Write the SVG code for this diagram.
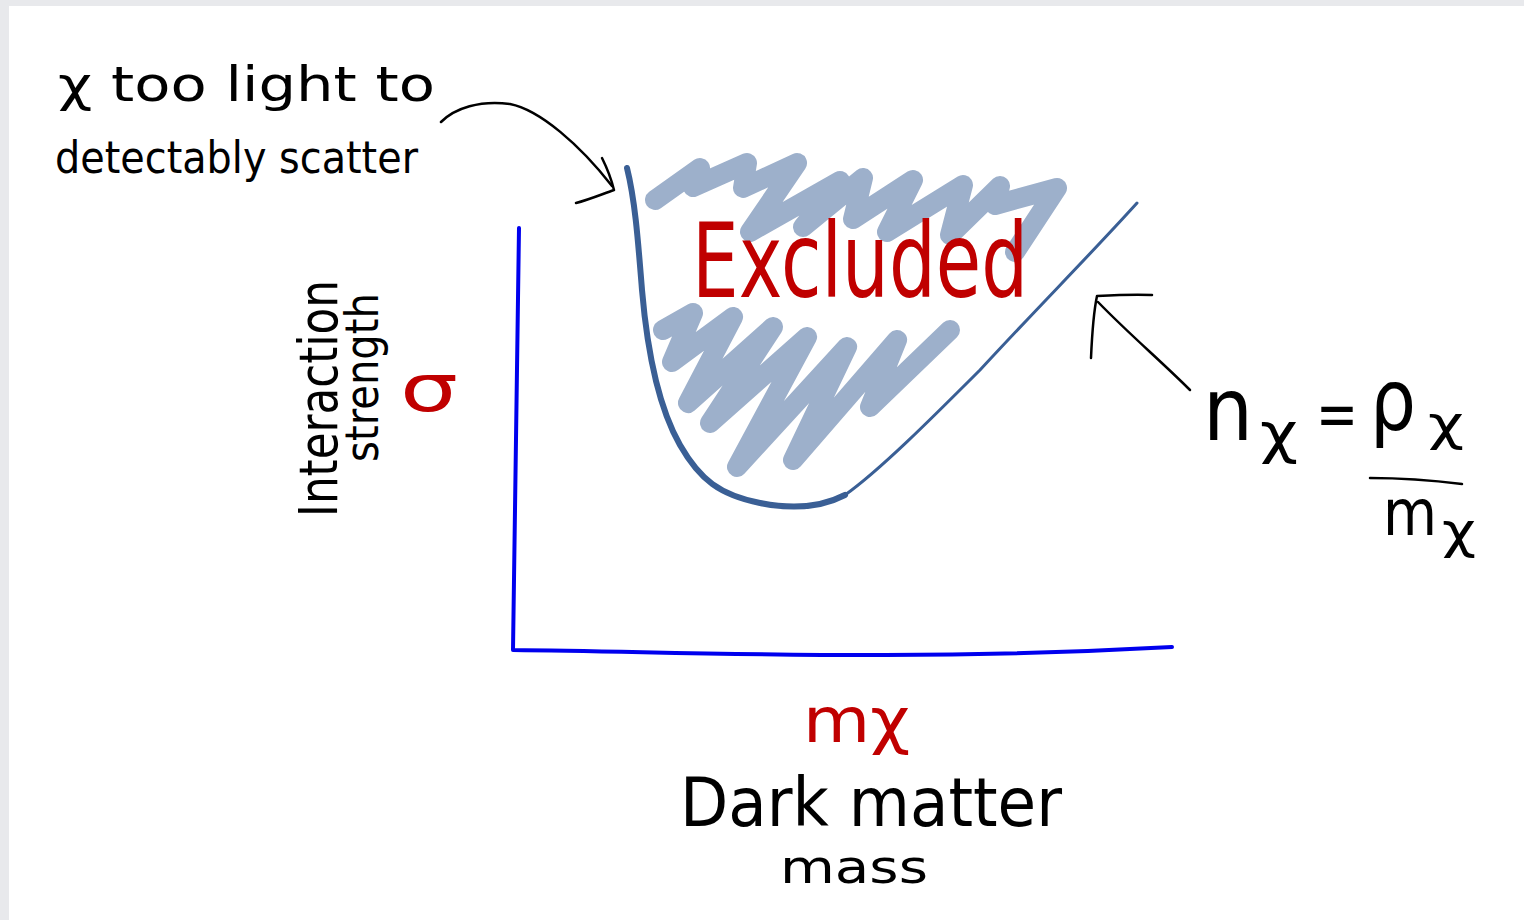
<svg xmlns="http://www.w3.org/2000/svg" width="1524" height="920" viewBox="0 0 1524 920">
<style>
.hand{font-family:"DejaVu Sans","Liberation Sans",sans-serif;fill:#000}
.red{fill:#c00000}
.ink{fill:none;stroke:#000;stroke-width:2.5;stroke-linecap:round;stroke-linejoin:round}
.scribble{fill:none;stroke:#9db0cb;stroke-width:20;stroke-linecap:round;stroke-linejoin:round}
.axis{fill:none;stroke:#0000ee;stroke-width:4;stroke-linecap:round;stroke-linejoin:round}
.bound{fill:none;stroke:#3a5f95;stroke-linecap:round;stroke-linejoin:round}
</style>
<rect x="0" y="0" width="1524" height="920" fill="#e8e9ec"/>
<rect x="9" y="6" width="1515" height="914" fill="#ffffff"/>

<g id="region">
<polyline class="scribble" points="655,200 700,168 693,187 747,163 743,188 797,163 750,232 840,181 803,227 863,178 853,219 913,180 887,232 963,185 950,235 1000,186 995,205 1057,188 1015,252"/>
<polyline class="scribble" points="663,330 693,313 672,362 733,317 688,403 773,327 710,423 807,337 737,467 847,347 793,460 897,340 870,407 950,330"/>
<path class="bound" stroke-width="6" d="M627,168 C635,200 638,240 642,290 C648,360 660,410 680,445 C700,480 720,495 760,503 C790,509 820,508 845,495"/>
<path class="bound" stroke-width="3" d="M845,495 C880,470 930,420 980,370 C1040,305 1090,255 1137,203"/>
<text class="hand red" x="692" y="297" font-size="104" textLength="336" lengthAdjust="spacingAndGlyphs">Excluded</text>
</g>

<g id="axes">
<path class="axis" d="M519,228 C518,350 516,500 513,650 C700,652 900,662 1172,647"/>
</g>

<g id="y-label">
<text class="hand" transform="translate(337,517) rotate(-90)" font-size="54" textLength="237" lengthAdjust="spacingAndGlyphs">Interaction</text>
<text class="hand" transform="translate(378,462) rotate(-90)" font-size="46" textLength="169" lengthAdjust="spacingAndGlyphs">strength</text>
<text class="hand red" x="400" y="411" font-size="66" textLength="58" lengthAdjust="spacingAndGlyphs">σ</text>
</g>

<g id="x-label">
<text class="hand red" x="803" y="742" font-size="62" textLength="107" lengthAdjust="spacingAndGlyphs">mχ</text>
<text class="hand" x="680" y="826" font-size="68" textLength="382" lengthAdjust="spacingAndGlyphs">Dark matter</text>
<text class="hand" x="780" y="883" font-size="46" textLength="148" lengthAdjust="spacingAndGlyphs">mass</text>
</g>

<g id="note-light">
<text class="hand" x="58" y="101" font-size="48" textLength="377" lengthAdjust="spacingAndGlyphs">χ too light to</text>
<text class="hand" x="55" y="173" font-size="44" textLength="363" lengthAdjust="spacingAndGlyphs">detectably scatter</text>
</g>

<g id="formula">
<text class="hand" x="1203" y="440" font-size="88" textLength="50" lengthAdjust="spacingAndGlyphs">n</text>
<text class="hand" x="1260" y="452" font-size="56" textLength="38" lengthAdjust="spacingAndGlyphs">χ</text>
<text class="hand" x="1316" y="436" font-size="64" textLength="42" lengthAdjust="spacingAndGlyphs">=</text>
<text class="hand" x="1370" y="430" font-size="86" textLength="46" lengthAdjust="spacingAndGlyphs">ρ</text>
<text class="hand" x="1428" y="440" font-size="48" textLength="36" lengthAdjust="spacingAndGlyphs">χ</text>
<path class="ink" stroke-width="3" d="M1370,478 C1400,478 1430,480 1462,484"/>
<text class="hand" x="1383" y="535" font-size="64" textLength="54" lengthAdjust="spacingAndGlyphs">m</text>
<text class="hand" x="1442" y="548" font-size="50" textLength="34" lengthAdjust="spacingAndGlyphs">χ</text>
</g>

<g id="connectors">
<path class="ink" d="M441,122 C455,108 480,100 510,104 C540,110 580,145 612,186"/>
<path class="ink" d="M602,158 C607,168 611,178 614,190 C600,195 588,200 576,203"/>
<path class="ink" d="M1190,390 C1160,360 1130,335 1098,302"/>
<path class="ink" stroke-width="3.5" d="M1091,358 C1092,335 1093,315 1097,296 C1115,295 1135,294 1152,295"/>
</g>
</svg>
